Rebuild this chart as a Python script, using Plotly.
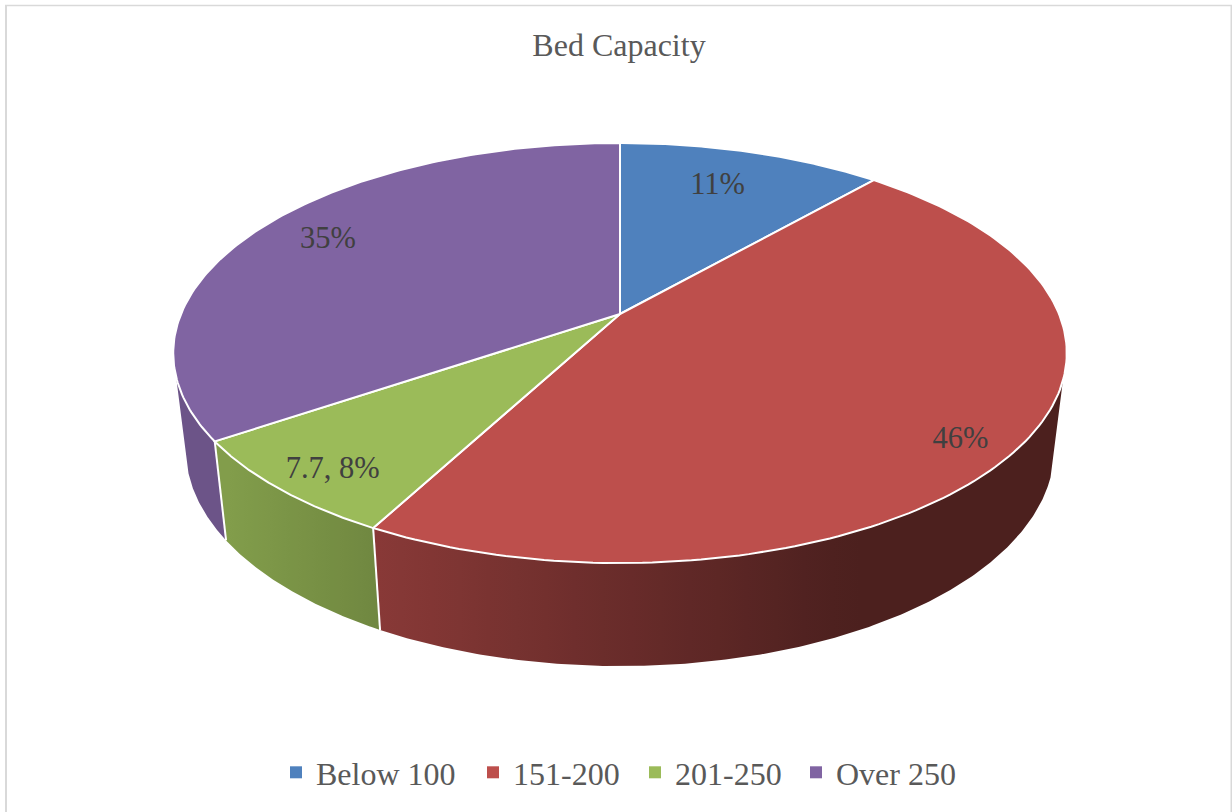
import numpy as np
import plotly.graph_objects as go

# Bed capacity shares
categories = ["Below 100", "151-200", "201-250", "Over 250"]
shares = [11.45, 46.34, 7.7, 34.51]
top_colors = ["#4f81bd", "#bd4f4c", "#9bbb59", "#8064a2"]
title_text = "Bed Capacity"

# Label text: the small slice also states its value
label_with_value = [False, False, True, False]
label_radius = [0.78, 0.885, 0.875, 0.825]
label_turn = [-1.7, 3.4, -0.9, 1.9]
legend_left = [276, 473, 635, 796]

W, H = 1232, 812
CX, CY = 620.0, 314.0
A, B, K = 439.0, 202.8, 0.1857
WALL_X_SCALE = 0.972
WALL_DROP = 99.0
WALL_SLOPE = 0.033
WALL_FROM, WALL_TO = 108.0, 253.0
LABEL_DROP = 3.5
SERIF = "Liberation Serif"


def project(theta_deg, r=1.0):
    """Tilted-disc perspective: theta is clockwise from twelve o'clock."""
    t = np.radians(np.asarray(theta_deg, dtype=float))
    w = 1 + K * r * np.cos(t)
    return CX + A * r * np.sin(t) / w, CY - B * r * np.cos(t) / w


def lower_rim(x, y):
    return CX + WALL_X_SCALE * (x - CX), y + WALL_DROP + WALL_SLOPE * (y - 441.0)


def shade(hex_color, x):
    f = np.interp(x, [175, 225, 380, 850, 1066], [0.84, 0.84, 0.72, 0.40, 0.40])
    rgb = [int(hex_color[i:i + 2], 16) for i in (1, 3, 5)]
    return "rgb({},{},{})".format(*[int(round(c * f)) for c in rgb])


total = sum(shares)
edges = np.concatenate([[0.0], np.cumsum(shares)]) / total * 360.0
fig = go.Figure()

# Outer wall sections, shaded left to right
for i, color in enumerate(top_colors):
    lo, hi = max(edges[i], WALL_FROM), min(edges[i + 1], WALL_TO)
    if hi <= lo:
        continue
    xt, yt = project(np.linspace(lo, hi, 200))
    xb, yb = lower_rim(xt, yt)
    px = np.concatenate([xt, xb[::-1], xt[:1]])
    py = np.concatenate([yt, yb[::-1], yt[:1]])
    x0, x1 = float(px.min()), float(px.max())
    stops = [[p, shade(color, x0 + p * (x1 - x0))] for p in np.linspace(0, 1, 25)]
    fig.add_trace(go.Scatter(
        x=px, y=py, mode="lines", fill="toself",
        fillgradient=dict(type="horizontal", colorscale=stops, start=x0, stop=x1),
        line=dict(width=0), hoverinfo="skip", showlegend=False))

# White seams between wall sections
for e in edges[2:4]:
    xt, yt = project([e])
    xb, yb = lower_rim(xt, yt)
    fig.add_trace(go.Scatter(
        x=[xt[0], xb[0]], y=[yt[0], yb[0]], mode="lines",
        line=dict(color="white", width=2), hoverinfo="skip", showlegend=False))

# Top faces
for i, color in enumerate(top_colors):
    arc = np.linspace(edges[i], edges[i + 1], 160)
    xs, ys = project(arc)
    fig.add_trace(go.Scatter(
        x=np.concatenate([[CX], xs, [CX]]), y=np.concatenate([[CY], ys, [CY]]),
        mode="lines", fill="toself", fillcolor=color,
        line=dict(color="white", width=2),
        name=categories[i], hoverinfo="skip", showlegend=False))

# Data labels
texts, lx, ly = [], [], []
for i, share in enumerate(shares):
    mid = (edges[i] + edges[i + 1]) / 2 + label_turn[i]
    x, y = project([mid], label_radius[i])
    pct = f"{round(share / total * 100)}%"
    texts.append(f"{share}, {pct}" if label_with_value[i] else pct)
    lx.append(x[0])
    ly.append(y[0] + LABEL_DROP)
fig.add_trace(go.Scatter(
    x=lx, y=ly, mode="text", text=texts, textposition="middle center",
    textfont=dict(family=SERIF, size=30.5, color="#404040"),
    hoverinfo="skip", showlegend=False))

# One legend box per entry, so that each can be spaced on its own
legends = {}
for i, (name, color) in enumerate(zip(categories, top_colors)):
    key = "legend" if i == 0 else f"legend{i + 1}"
    fig.add_trace(go.Scatter(
        x=[None], y=[None], mode="markers", name=name, legend=key,
        marker=dict(symbol="square", size=9, color=color)))
    legends[key] = dict(
        orientation="h", x=legend_left[i] / W, xanchor="left", y=1 - 772.5 / H, yanchor="middle",
        font=dict(family=SERIF, size=32, color="#595959"),
        bgcolor="rgba(0,0,0,0)", itemsizing="constant")

# Chart frame
frame = dict(color="#d9d9d9", width=2)
shapes = [
    dict(type="line", xref="x", yref="y", x0=6, x1=6, y0=5.5, y1=H, line=frame),
    dict(type="line", xref="x", yref="y", x0=5, x1=1232, y0=5.5, y1=5.5, line=dict(color="#d9d9d9", width=1.5)),
    dict(type="line", xref="x", yref="y", x0=1231.5, x1=1231.5, y0=5, y1=H, line=frame),
]

fig.update_layout(
    width=W, height=H, margin=dict(l=0, r=0, t=0, b=0),
    paper_bgcolor="white", plot_bgcolor="white",
    xaxis=dict(range=[0, W], visible=False, fixedrange=True),
    yaxis=dict(range=[H, 0], visible=False, fixedrange=True),
    shapes=shapes,
    title=dict(text=title_text, x=619 / W, xanchor="center", y=1 - 45 / H, yanchor="middle",
               font=dict(family=SERIF, size=32, color="#595959")),
    **legends,
)
fig.write_html("out.html", config=dict(displayModeBar=False))
